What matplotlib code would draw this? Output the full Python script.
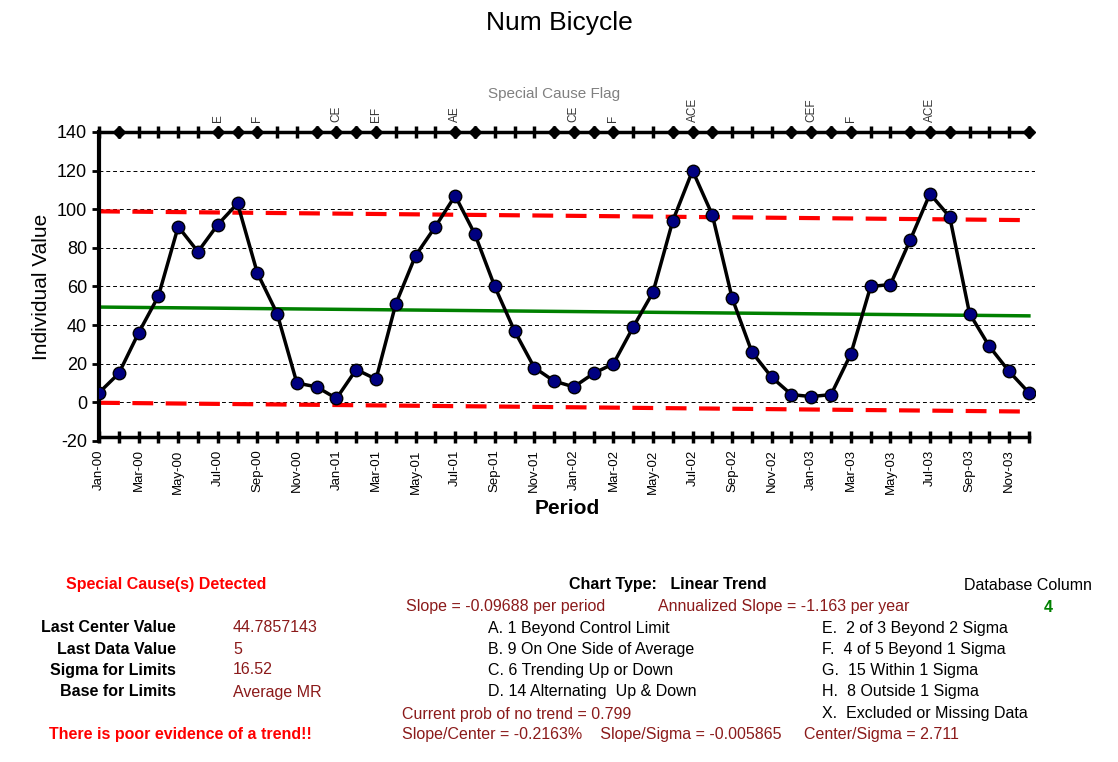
import matplotlib
matplotlib.use("Agg")
import matplotlib.pyplot as plt
import numpy as np

plt.rcParams['font.family'] = ['Liberation Sans', 'DejaVu Sans']
plt.rcParams['axes.unicode_minus'] = False

months = ['Jan', 'Feb', 'Mar', 'Apr', 'May', 'Jun', 'Jul', 'Aug', 'Sep', 'Oct', 'Nov', 'Dec']
periods = [f"{m}-{y:02d}" for y in range(4) for m in months]
values = [5, 15, 36, 55, 91, 78, 92, 103, 67, 46, 10, 8,
          2, 17, 12, 51, 76, 91, 107, 87, 60, 37, 18, 11,
          8, 15, 20, 39, 57, 94, 120, 97, 54, 26, 13, 4,
          3, 4, 25, 60, 61, 84, 108, 96, 46, 29, 16, 5]
last_center = 44.7857143
slope = -0.09688
sigma = 16.52
flag_idx = [6, 8, 12, 14, 18, 24, 26, 30, 36, 38, 42]
flag_txt = ['E', 'F', 'CE', 'EF', 'AE', 'CE', 'F', 'ACE', 'CEF', 'F', 'ACE']
diamond_idx = [1, 6, 7, 8, 11, 12, 13, 14, 18, 19, 23, 24, 25, 26, 29, 30, 31,
               35, 36, 37, 38, 41, 42, 43, 47]

n = len(values)
x = np.arange(n)
center = last_center + slope * (x - (n - 1))
ucl = center + 3 * sigma
lcl = center - 3 * sigma

fig = plt.figure(figsize=(11.18, 7.62), dpi=100)
ax = fig.add_axes([0.0886, 0.4213, 0.837, 0.4055])
ax.set_xlim(0, 47.3)
ax.set_ylim(-20, 140)

for y in range(-20, 141, 20):
    ax.axhline(y, color='black', linestyle=(0, (4, 3)), linewidth=0.7, zorder=0)

ax.plot(x, center, color='#008000', linewidth=2.5)
ax.plot(x, ucl, color='#ff0000', linewidth=3, linestyle=(0, (5, 3)))
ax.plot(x, lcl, color='#ff0000', linewidth=3, linestyle=(0, (5, 3)))
ax.plot(x, values, color='black', linewidth=2.5, marker='o', markersize=9,
        markerfacecolor='#000080', markeredgecolor='black', zorder=5)

# flag rows at top and bottom
for yy in (140, -18):
    ax.plot(x, [yy] * n, color='black', linewidth=2.5, clip_on=False, zorder=4)
    ax.plot(x, [yy] * n, color='black', linestyle='none', marker='|', markersize=9,
            markeredgewidth=2.5, clip_on=False, zorder=4)
ax.plot(diamond_idx, [140] * len(diamond_idx), color='black', linestyle='none',
        marker='D', markersize=6, clip_on=False, zorder=6)
for i, t in zip(flag_idx, flag_txt):
    ax.text(i, 145, t, rotation=90, ha='center', va='bottom', fontsize=8.5, color='#333333')
ax.text(23, 156, 'Special Cause Flag', ha='center', va='bottom', fontsize=11, color='gray')

for s in ['top', 'right']:
    ax.spines[s].set_visible(False)
ax.spines['left'].set_linewidth(3)
ax.spines['bottom'].set_visible(False)
ax.set_yticks(range(-20, 141, 20))
ax.tick_params(axis='y', labelsize=13, width=2, length=5)
ax.set_xticks(x[::2])
ax.set_xticklabels(periods[::2], rotation=90, fontsize=9.5)
ax.tick_params(axis='x', length=0, pad=6)
ax.set_ylabel('Individual Value', fontsize=15)
ax.set_xlabel('Period', fontsize=15, fontweight='bold')
fig.suptitle('Num Bicycle', fontsize=19, y=0.985)

W, H = 1118, 762
def t(px, py, s, **kw):
    fig.text(px / W, 1 - py / H, s, va='center', fontsize=11.5, **kw)

red = '#ff0000'
dred = '#8b1a1a'
t(166, 585, 'Special Cause(s) Detected', ha='center', color=red, fontweight='bold')
t(176, 628, 'Last Center Value', ha='right', fontweight='bold')
t(176, 649, 'Last Data Value', ha='right', fontweight='bold')
t(176, 670, 'Sigma for Limits', ha='right', fontweight='bold')
t(176, 692, 'Base for Limits', ha='right', fontweight='bold')
t(233, 628, f'{last_center}', color=dred)
t(233, 649, f'{values[-1]}', color=dred)
t(233, 670, f'{sigma}', color=dred)
t(233, 692, 'Average MR', color=dred)
t(180, 735, 'There is poor evidence of a trend!!', ha='center', color=red, fontweight='bold')

t(668, 585, 'Chart Type:   Linear Trend', ha='center', fontweight='bold')
t(406, 607, f'Slope = {slope} per period', color=dred)
t(658, 607, f'Annualized Slope = {slope * 12:.3f} per year', color=dred)
t(1028, 585, 'Database Column', ha='center')
t(1048, 607, '4', ha='center', color='#008000', fontweight='bold')
rules_l = ['A. 1 Beyond Control Limit', 'B. 9 On One Side of Average',
           'C. 6 Trending Up or Down', 'D. 14 Alternating  Up & Down']
rules_r = ['E.  2 of 3 Beyond 2 Sigma', 'F.  4 of 5 Beyond 1 Sigma',
           'G.  15 Within 1 Sigma', 'H.  8 Outside 1 Sigma', 'X.  Excluded or Missing Data']
for k, s in enumerate(rules_l):
    t(488, 628 + 21.3 * k, s)
for k, s in enumerate(rules_r):
    t(822, 628 + 21.3 * k, s)
t(402, 714, 'Current prob of no trend = 0.799', color=dred)
t(402, 735, 'Slope/Center = -0.2163%    Slope/Sigma = -0.005865     Center/Sigma = 2.711', color=dred)

fig.savefig('out.png', dpi=100)
